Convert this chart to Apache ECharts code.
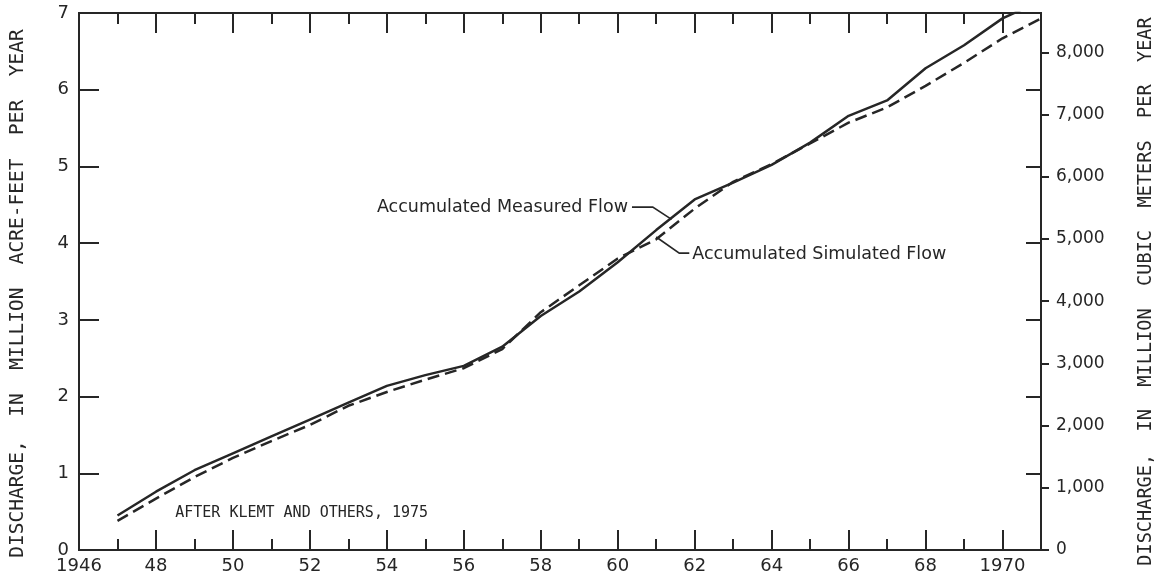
<!DOCTYPE html>
<html>
<head>
<meta charset="utf-8">
<script src="https://cdn.jsdelivr.net/npm/echarts@6/dist/echarts.min.js"></script>
<style>
  html, body { margin: 0; padding: 0; background: #ffffff; }
  #chart { width: 1164px; height: 581px; }
</style>
</head>
<body>
<div id="chart"></div>
<script>
// ---- data ----
const years = [1947,1948,1949,1950,1951,1952,1953,1954,1955,1956,1957,1958,1959,1960,1961,1962,1963,1964,1965,1966,1967,1968,1969,1970,1971];
const measuredFlow = [0.45,0.76,1.04,1.26,1.48,1.70,1.92,2.14,2.28,2.40,2.65,3.05,3.37,3.75,4.17,4.57,4.79,5.02,5.31,5.66,5.86,6.28,6.58,6.93,7.16];
const simulatedFlow = [0.38,0.67,0.95,1.20,1.42,1.63,1.88,2.06,2.22,2.37,2.62,3.10,3.45,3.80,4.05,4.45,4.80,5.03,5.30,5.57,5.77,6.05,6.35,6.67,6.93];
const majorYears = [1946,1948,1950,1952,1954,1956,1958,1960,1962,1964,1966,1968,1970];
const minorYears = [1947,1949,1951,1953,1955,1957,1959,1961,1963,1965,1967,1969];
const leftTicks = [0,1,2,3,4,5,6,7];
const rightTicks = [0,1000,2000,3000,4000,5000,6000,7000,8000];
const M3_PER_ACFT = 1233.48;
const measuredLabel = 'Accumulated Measured Flow';
const simulatedLabel = 'Accumulated Simulated Flow';
const sourceNote = 'AFTER KLEMT AND OTHERS, 1975';
const leftName = 'DISCHARGE,  IN  MILLION  ACRE-FEET  PER  YEAR';
const rightName = 'DISCHARGE,  IN  MILLION  CUBIC  METERS  PER  YEAR';
// annotation leader anchors in data units [year, million acre-feet]
const measuredLeader = [[1961.4, 4.31],[1960.91, 4.47],[1960.37, 4.47]];
const simulatedLeader = [[1961.0, 4.08],[1961.6, 3.87],[1961.86, 3.87]];
const noteAnchor = [1948.5, 0.48];

// ---- chart ----
const INK = '#262626';
const FONT = 'DejaVu Sans';
const MONO = 'DejaVu Sans Mono';
const chart = echarts.init(document.getElementById('chart'), null, {renderer: 'canvas'});

function xAxisBase(pos, tickLen, tickVals, showLabels) {
  return {
    type: 'value', position: pos, min: 1946, max: 1971, interval: 1,
    axisLine: {show: true, onZero: false, lineStyle: {color: INK, width: 2}},
    axisTick: {show: true, inside: true, length: tickLen, customValues: tickVals, lineStyle: {color: INK, width: 2}},
    axisLabel: showLabels ? {
      show: true, customValues: majorYears, margin: 7, color: INK, fontFamily: FONT, fontSize: 18,
      formatter: v => (v === 1946 || v === 1970) ? String(v) : String(v).slice(2)
    } : {show: false},
    splitLine: {show: false}
  };
}

const majorTickVals = majorYears.filter(y => y !== 1946);

const option = {
  backgroundColor: '#ffffff',
  animation: false,
  grid: {left: 78, right: 114, top: 13, bottom: 31, containLabel: false},
  xAxis: [
    xAxisBase('bottom', 11, minorYears, false),
    xAxisBase('bottom', 20, majorTickVals, true),
    xAxisBase('top', 11, minorYears, false),
    xAxisBase('top', 20, majorTickVals, false)
  ],
  yAxis: [
    {
      type: 'value', position: 'left', min: 0, max: 7, interval: 1,
      name: leftName, nameLocation: 'middle', nameGap: 51,
      nameTextStyle: {color: INK, fontFamily: MONO, fontSize: 19.5, padding: [0, 24, 0, 0]},
      axisLine: {show: true, lineStyle: {color: INK, width: 2}},
      axisTick: {show: true, inside: true, length: 20, lineStyle: {color: INK, width: 2}},
      axisLabel: {show: true, margin: 10, color: INK, fontFamily: FONT, fontSize: 18},
      splitLine: {show: false}
    },
    {
      type: 'value', position: 'right', min: 0, max: 7 * M3_PER_ACFT, interval: 1000,
      name: rightName, nameLocation: 'middle', nameGap: 96, nameRotate: 90,
      nameTextStyle: {color: INK, fontFamily: MONO, fontSize: 18.6, padding: [0, 20, 0, 0]},
      axisLine: {show: true, lineStyle: {color: INK, width: 2}},
      axisTick: {show: true, inside: false, length: 8, customValues: rightTicks, lineStyle: {color: INK, width: 2}},
      axisLabel: {
        show: true, margin: 15, customValues: rightTicks, color: INK, fontFamily: FONT, fontSize: 17,
        formatter: v => v.toLocaleString('en-US')
      },
      splitLine: {show: false}
    },
    {
      type: 'value', position: 'right', min: 0, max: 7, interval: 1,
      axisLine: {show: false},
      axisTick: {show: true, inside: true, length: 15, customValues: leftTicks.slice(1, 7), lineStyle: {color: INK, width: 2}},
      axisLabel: {show: false},
      splitLine: {show: false}
    }
  ],
  series: [
    {
      name: measuredLabel, type: 'line', xAxisIndex: 0, yAxisIndex: 0,
      data: years.map((y, i) => [y, measuredFlow[i]]),
      showSymbol: false, symbol: 'none', clip: true,
      lineStyle: {color: INK, width: 2.5, type: 'solid'}, z: 3
    },
    {
      name: simulatedLabel, type: 'line', xAxisIndex: 0, yAxisIndex: 0,
      data: years.map((y, i) => [y, simulatedFlow[i]]),
      showSymbol: false, symbol: 'none', clip: true,
      lineStyle: {color: INK, width: 2.5, type: [12, 6]}, z: 2
    }
  ]
};
chart.setOption(option);

function px(p) { return chart.convertToPixel({xAxisIndex: 0, yAxisIndex: 0}, p); }
const mPts = measuredLeader.map(px);
const sPts = simulatedLeader.map(px);
const nPt = px(noteAnchor);
const txt = {fontFamily: FONT, fontSize: 17.5, fill: INK};
chart.setOption({
  graphic: [
    {type: 'polyline', shape: {points: mPts}, style: {stroke: INK, lineWidth: 1.6, fill: null}, z: 10},
    {type: 'polyline', shape: {points: sPts}, style: {stroke: INK, lineWidth: 1.6, fill: null}, z: 10},
    {type: 'text', x: mPts[2][0] - 4, y: mPts[2][1], style: Object.assign({text: measuredLabel, align: 'right', verticalAlign: 'middle'}, txt), z: 10},
    {type: 'text', x: sPts[2][0] + 3, y: sPts[2][1] + 1, style: Object.assign({text: simulatedLabel, align: 'left', verticalAlign: 'middle'}, txt), z: 10},
    {type: 'text', x: nPt[0], y: nPt[1], style: {text: sourceNote, align: 'left', verticalAlign: 'middle', fontFamily: MONO, fontSize: 15, fill: INK}, z: 10}
  ]
});
</script>
</body>
</html>
